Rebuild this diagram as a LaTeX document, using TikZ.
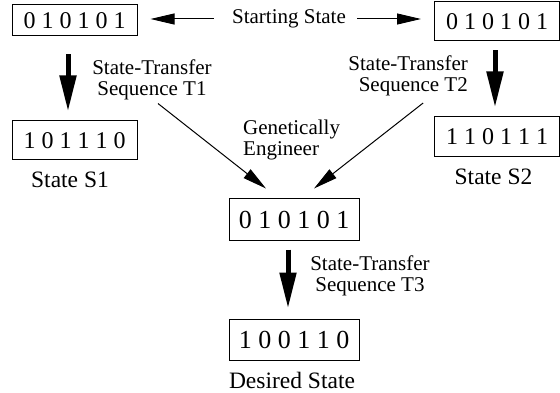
\documentclass[tikz,border=0pt]{standalone}
\usepackage{fontspec}
\setmainfont{Liberation Serif}
\usetikzlibrary{arrows.meta}

\begin{document}
\begin{tikzpicture}[x=1pt, y=-1pt,
  statebox/.style = {draw, line width=1pt, inner sep=0pt, minimum width=125pt, minimum height=39pt, font=\fontsize{24}{24}\selectfont},
  wide/.style = {minimum width=130pt, minimum height=41pt, font=\fontsize{26}{26}\selectfont},
  txt/.style = {inner sep=0pt, font=\fontsize{21}{21}\selectfont},
  stname/.style = {inner sep=0pt, anchor=base, font=\fontsize{23.5}{23.5}\selectfont},
  bigarrow/.style = {line width=5pt, -{Triangle[length=36pt, width=16pt]}},
  thinarrow/.style = {line width=1pt, -{Triangle[length=24pt, width=11pt]}}]

\useasboundingbox (0,0) rectangle (560,393);

\node[statebox, minimum height=31pt] (A) at (74.5, 20.5) {0 1 0 1 0 1};
\node[statebox] (B) at (497, 21.5) {0 1 0 1 0 1};
\node[statebox] (S1) at (74.5, 140.5) {1 0 1 1 1 0};
\node[statebox, minimum height=40pt] (S2) at (497, 137) {1 1 0 1 1 1};
\node[statebox, wide] (G) at (294, 219.5) {0 1 0 1 0 1};
\node[statebox, wide] (D) at (294, 339.5) {1 0 0 1 1 0};

\node[txt] (start) at (289, 19) {Starting State};
\node[txt, align=center] (T1) at (152, 79.7) {State-Transfer\\Sequence T1};
\node[txt, align=right, anchor=east] (T2) at (468, 75.7) {State-Transfer\\Sequence T2};
\node[txt, align=center] (T3) at (370, 275.7) {State-Transfer\\Sequence T3};
\node[txt, align=left, anchor=west] (gen) at (243, 139.7) {Genetically\\Engineer};
\node[stname] (nameS1) at (70, 188) {State S1};
\node[stname] (nameS2) at (493.5, 185) {State S2};
\node[stname] (nameD) at (292, 388) {Desired State};

\draw[thinarrow, shorten <=18pt, shorten >=13pt] (start.west) -- (A.east |- start);
\draw[thinarrow, shorten <=11pt, shorten >=13pt] (start.east) -- (B.west |- start);

\draw[bigarrow, shorten <=18pt, shorten >=9pt] ([xshift=-6.5pt]A.south) -- ([xshift=-6.5pt]S1.north);
\draw[bigarrow, shorten <=9pt, shorten >=9pt] ([xshift=-2pt]B.south) -- ([xshift=-2pt]S2.north);
\draw[bigarrow, shorten <=9pt, shorten >=10pt] ([xshift=-6pt]G.south) -- ([xshift=-6pt]D.north);

% genetically engineered
\draw[thinarrow] ([xshift=6pt, yshift=-3.5pt]T1.south) -- ([xshift=-28pt, yshift=10pt]G.north);
\draw[thinarrow] ([xshift=15pt, yshift=-7pt]T2.south) -- ([xshift=20pt, yshift=10pt]G.north);

\end{tikzpicture}
\end{document}
